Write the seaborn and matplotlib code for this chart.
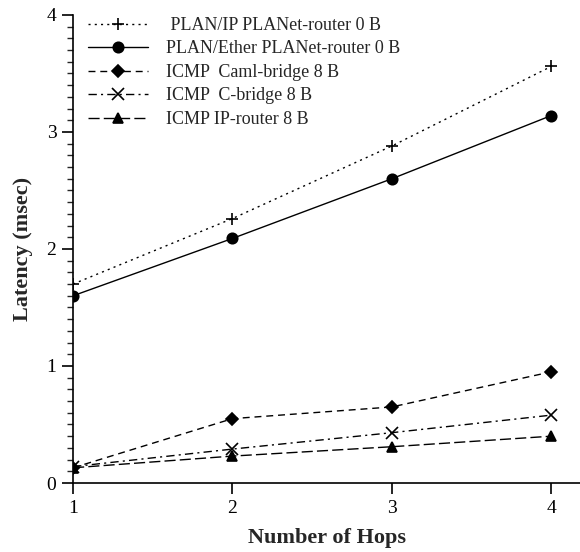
import matplotlib
matplotlib.use("Agg")
import matplotlib.pyplot as plt
from matplotlib.ticker import MultipleLocator
import seaborn as sns
import pandas as pd

hops = [1, 2, 3, 4]
series_names = [
    " PLAN/IP PLANet-router 0 B",
    "PLAN/Ether PLANet-router 0 B",
    "ICMP  Caml-bridge 8 B",
    "ICMP  C-bridge 8 B",
    "ICMP IP-router 8 B",
]
plan_ip = [1.70, 2.26, 2.88, 3.56]
plan_ether = [1.60, 2.09, 2.60, 3.14]
icmp_caml = [0.13, 0.55, 0.65, 0.95]
icmp_c = [0.14, 0.29, 0.43, 0.58]
icmp_ip = [0.13, 0.23, 0.31, 0.40]
all_values = [plan_ip, plan_ether, icmp_caml, icmp_c, icmp_ip]

sns.set_theme(style="ticks")
plt.rcParams['font.family'] = ['Liberation Serif', 'DejaVu Serif']

fig = plt.figure(figsize=(5.8, 5.52), dpi=100)
ax = fig.add_axes([0.126, 0.125, 0.874, 0.848])

markers = ["+", "o", "D", "x", "^"]
msizes = [8, 7.5, 6, 8, 7.5]
dash_list = [(1.5, 3), None, (5, 3.5), (6, 3, 1.5, 3), (8, 3)]

for name, vals, mk, ms, ds in zip(series_names, all_values, markers, msizes, dash_list):
    d = pd.DataFrame({"hops": hops, "latency": vals})
    kw = dict(marker=mk, markersize=ms, markeredgewidth=1.2, markeredgecolor="black",
              markerfacecolor="black", color="black", linewidth=1.0, label=name)
    if ds is not None:
        kw["dashes"] = ds
    sns.lineplot(data=d, x="hops", y="latency", ax=ax, **kw)

ax.set_xlim(1, 4.18)
ax.set_ylim(0, 4)
ax.set_xticks(hops)
ax.yaxis.set_major_locator(MultipleLocator(1))
ax.yaxis.set_minor_locator(MultipleLocator(0.1))
ax.tick_params(axis="both", which="major", direction="out", length=8, width=1.2,
               labelsize=14, colors="black", pad=4)
ax.tick_params(axis="y", which="minor", direction="out", length=4, width=1.0, left=True)
for s in ["top", "right"]:
    ax.spines[s].set_visible(False)
for s in ["left", "bottom"]:
    ax.spines[s].set_linewidth(1.2)
    ax.spines[s].set_color("black")

ax.set_xlabel("Number of Hops", fontsize=16, fontweight="bold", labelpad=8)
ax.set_ylabel("Latency (msec)", fontsize=16, fontweight="bold", labelpad=10)

leg = ax.legend(loc="upper left", frameon=False, fontsize=13, handlelength=3.3,
                handletextpad=1.0, labelspacing=0.36, borderaxespad=0.2,
                bbox_to_anchor=(0.008, 1.019))

fig.savefig("out.png", dpi=100)
